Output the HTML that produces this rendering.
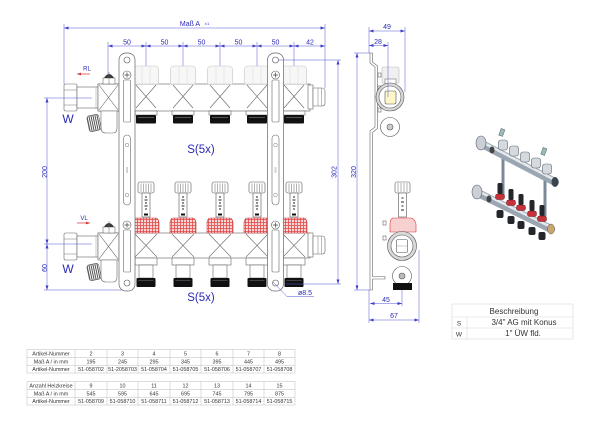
<!DOCTYPE html>
<html><head><meta charset="utf-8">
<style>
html,body{margin:0;padding:0;background:#fff;}
svg{display:block;}
text{font-family:"Liberation Sans",sans-serif;}
</style></head><body>
<svg width="600" height="425" viewBox="0 0 600 425" xmlns="http://www.w3.org/2000/svg">
<defs>
<pattern id="chk" width="3" height="3" patternUnits="userSpaceOnUse">
<rect width="3" height="3" fill="#f9d6d6"/>
<path d="M0 0.5H3M0.5 0V3" stroke="#e04848" stroke-width="0.8"/>
</pattern>
<pattern id="knurl" width="2" height="2" patternUnits="userSpaceOnUse">
<rect width="2" height="2" fill="#fff"/>
<rect width="1" height="2" fill="#555"/>
</pattern>
<marker id="a" viewBox="0 0 6 4" refX="6" refY="2" markerWidth="5" markerHeight="3" markerUnits="userSpaceOnUse" orient="auto-start-reverse"><path d="M0 0L6 2L0 4Z" fill="#3d3dc8"/></marker>
<marker id="ra" viewBox="0 0 6 4" refX="6" refY="2" markerWidth="4" markerHeight="3" markerUnits="userSpaceOnUse" orient="auto-start-reverse"><path d="M0 0L6 2L0 4Z" fill="#d83030"/></marker>

<g id="tout">
 <path d="M-12.5 84V70Q-12.5 66 -8.5 66H8.5Q12.5 66 12.5 70V84Z" fill="#f7f7f7" stroke="#c4c4c4" stroke-width="0.6"/>
 <path d="M-4 66.5V84M4 66.5V84" stroke="#d8d8d8" stroke-width="0.5"/>
 <path d="M-10 85L10 108M10 85L-10 108" stroke="#666" stroke-width="0.6" fill="none"/>
 <rect x="-11" y="111" width="22" height="4" fill="#fff" stroke="#666" stroke-width="0.6"/>
 <rect x="-10" y="115" width="20" height="8.5" rx="1" fill="#111"/>
 <path d="M-8 117.5H8" stroke="#888" stroke-width="0.6"/>
</g>

<g id="bout">
 <rect x="-8" y="182" width="16" height="11" rx="2" fill="#fff" stroke="#555" stroke-width="0.6"/>
 <path d="M-5 183.5V192M-2.5 183.5V192M0 183.5V192M2.5 183.5V192M5 183.5V192" stroke="#666" stroke-width="0.5"/>
 <rect x="-4" y="193" width="8" height="24" fill="#fff" stroke="#555" stroke-width="0.6"/>
 <path d="M-1 197h2M-1.5 200h3M-1 203h2M-1.5 206h3M-1 209h2" stroke="#222" stroke-width="1"/>
 <rect x="-2" y="213.5" width="4" height="2" fill="#111"/>
 <path d="M-10 218Q-12 218 -13 222V233H13V222Q12 218 10 218Z" fill="url(#chk)" stroke="#cc3b3b" stroke-width="0.6"/>
 <path d="M-11 234L11 257M11 234L-11 257" stroke="#666" stroke-width="0.6" fill="none"/>
 <rect x="-11" y="258" width="22" height="7" fill="#fff" stroke="#666" stroke-width="0.6"/>
 <rect x="-7" y="265" width="14" height="13" fill="#fff" stroke="#666" stroke-width="0.6"/>
 <rect x="-9.5" y="278" width="19" height="9" rx="1" fill="#111"/>
 <path d="M-7.5 280.5H7.5" stroke="#777" stroke-width="0.5"/>
</g>

<g id="bracket">
 <rect x="-8" y="53" width="16" height="238" rx="7" fill="#fff" stroke="#666" stroke-width="0.7"/>
 <circle cx="0" cy="60" r="3" fill="#fff" stroke="#555" stroke-width="0.6"/>
 <circle cx="0" cy="75" r="4" fill="#fff" stroke="#555" stroke-width="0.6"/>
 <path d="M-2.5 75H2.5M0 72.5V77.5" stroke="#444" stroke-width="0.7"/>
 <rect x="-3.5" y="80" width="7" height="42" rx="1" fill="#fff" stroke="#666" stroke-width="0.6"/>
 <rect x="-3.5" y="135" width="7" height="70" rx="3.5" fill="#fff" stroke="#666" stroke-width="0.6"/>
 <circle cx="0" cy="145" r="1.8" fill="none" stroke="#777" stroke-width="0.5"/>
 <circle cx="0" cy="195" r="1.8" fill="none" stroke="#777" stroke-width="0.5"/>
 <path d="M-1 168h2M-1 170h2M-1 172h2" stroke="#555" stroke-width="0.6"/>
 <circle cx="0" cy="225" r="4" fill="#fff" stroke="#555" stroke-width="0.6"/>
 <path d="M-2.5 225H2.5M0 222.5V227.5" stroke="#444" stroke-width="0.7"/>
 <rect x="-3.5" y="230" width="7" height="42" rx="1" fill="#fff" stroke="#666" stroke-width="0.6"/>
 <circle cx="0" cy="283" r="3" fill="#fff" stroke="#555" stroke-width="0.6"/>
</g>

<g id="leftend">
 <rect x="64" y="84" width="13" height="27" rx="1.5" fill="#fff" stroke="#666" stroke-width="0.6"/>
 <path d="M64 90H77M64 105H77" stroke="#777" stroke-width="0.5"/>
 <rect x="77" y="87" width="21" height="21" fill="#fff" stroke="#666" stroke-width="0.6"/>
 <path d="M96 87V108" stroke="#999" stroke-width="0.5"/>
 <rect x="98" y="84" width="21" height="27" fill="#fff" stroke="#666" stroke-width="0.6"/>
 <path d="M99 85L118 110M118 85L99 110" stroke="#666" stroke-width="0.6"/>
 <rect x="103" y="78" width="12" height="6" fill="#fff" stroke="#555" stroke-width="0.5"/>
 <path d="M104 78Q109 70 114 78Z" fill="#3a3a3a"/>
 <path d="M109 72V84" stroke="#666" stroke-width="0.5"/>
 <path d="M101 111V128Q101 133 106 133H113Q117 133 117 128V111Z" fill="#fff" stroke="#666" stroke-width="0.6"/>
 <rect x="88" y="115" width="12" height="16" rx="2.5" fill="url(#knurl)" stroke="#555" stroke-width="0.6" transform="rotate(-12 94 123)"/>
</g>

<g id="rightend">
 <rect x="308" y="85" width="5" height="24" fill="#fff" stroke="#666" stroke-width="0.6"/>
 <path d="M313 88H322Q325 88 325 91V103Q325 106 322 106H313Z" fill="#fff" stroke="#666" stroke-width="0.6"/>
 <path d="M318 88V106M321.5 88V106" stroke="#777" stroke-width="0.5"/>
</g>
</defs>

<rect x="98" y="84" width="212" height="27" fill="#fff" stroke="#777" stroke-width="0.7"/>
<use href="#tout" x="146"/>
<use href="#tout" x="183"/>
<use href="#tout" x="220"/>
<use href="#tout" x="257"/>
<use href="#tout" x="294"/>
<use href="#leftend"/>
<use href="#rightend"/>

<rect x="98" y="233" width="212" height="25" fill="#fff" stroke="#777" stroke-width="0.7"/>
<use href="#bout" x="146"/>
<use href="#bout" x="183"/>
<use href="#bout" x="220"/>
<use href="#bout" x="257"/>
<use href="#bout" x="294"/>
<use href="#leftend" y="149"/>
<use href="#rightend" y="148"/>

<use href="#bracket" x="127"/>
<use href="#bracket" x="275.5"/>

<g stroke="#5555d4" stroke-width="0.5" fill="none">
 <line x1="64" y1="28" x2="325" y2="28" marker-start="url(#a)" marker-end="url(#a)"/>
 <line x1="64" y1="24" x2="64" y2="84"/>
 <line x1="325" y1="24" x2="325" y2="88"/>
 <line x1="108" y1="42" x2="108" y2="74"/>
 <line x1="146" y1="42" x2="146" y2="66"/>
 <line x1="183" y1="42" x2="183" y2="66"/>
 <line x1="220" y1="42" x2="220" y2="66"/>
 <line x1="257" y1="42" x2="257" y2="66"/>
 <line x1="294" y1="42" x2="294" y2="66"/>
 <line x1="108" y1="46" x2="146" y2="46" marker-start="url(#a)" marker-end="url(#a)"/>
 <line x1="146" y1="46" x2="183" y2="46" marker-start="url(#a)" marker-end="url(#a)"/>
 <line x1="183" y1="46" x2="220" y2="46" marker-start="url(#a)" marker-end="url(#a)"/>
 <line x1="220" y1="46" x2="257" y2="46" marker-start="url(#a)" marker-end="url(#a)"/>
 <line x1="257" y1="46" x2="294" y2="46" marker-start="url(#a)" marker-end="url(#a)"/>
 <line x1="294" y1="46" x2="325" y2="46" marker-start="url(#a)" marker-end="url(#a)"/>
 <line x1="44" y1="98" x2="92" y2="98"/>
 <line x1="44" y1="244" x2="92" y2="244"/>
 <line x1="44" y1="290" x2="122" y2="290"/>
 <line x1="47" y1="98" x2="47" y2="244" marker-start="url(#a)" marker-end="url(#a)"/>
 <line x1="47" y1="244" x2="47" y2="290" marker-start="url(#a)" marker-end="url(#a)"/>
 <line x1="278" y1="60" x2="341" y2="60"/>
 <line x1="286" y1="284" x2="341" y2="284"/>
 <line x1="338" y1="60" x2="338" y2="284" marker-start="url(#a)" marker-end="url(#a)"/>
 <path d="M273 282L287 296.5H314"/>
</g>
<g fill="#2a2ab8" font-size="7" text-anchor="middle">
 <text x="190" y="26">Maß A</text>
 <text x="207" y="25" font-size="4">±1</text>
 <text x="127" y="44.5">50</text>
 <text x="164.5" y="44.5">50</text>
 <text x="201.5" y="44.5">50</text>
 <text x="238.5" y="44.5">50</text>
 <text x="275.5" y="44.5">50</text>
 <text x="310" y="44.5">42</text>
 <text transform="translate(47,172) rotate(-90)">200</text>
 <text transform="translate(47,268) rotate(-90)">60</text>
 <text transform="translate(336.5,172) rotate(-90)">302</text>
 <text x="305" y="295">ø8.5</text>
 <text x="87" y="70.5" font-size="6">RL</text>
 <text x="84" y="220" font-size="6">VL</text>
 <text x="68" y="123" font-size="12">W</text>
 <text x="68" y="273" font-size="12">W</text>
 <text x="201" y="153" font-size="11.5">S(5x)</text>
 <text x="201" y="301" font-size="11.5">S(5x)</text>
</g>
<line x1="90" y1="74" x2="77" y2="74" stroke="#d83030" stroke-width="0.7" marker-end="url(#ra)"/>
<line x1="77" y1="223" x2="90" y2="223" stroke="#d83030" stroke-width="0.7" marker-end="url(#ra)"/>

<g stroke="#666" stroke-width="0.6" fill="#fff">
 <path d="M370 53V63L375 67V127L370 131V290H372.5V279H385V276.5H372.5V132.5L377.5 128.5V66L372.5 62V53Z"/>
 <rect x="378" y="73" width="3" height="4"/>
 <rect x="378" y="86" width="3" height="4"/>
 <rect x="378" y="108" width="3" height="4"/>
 <rect x="383" y="221" width="3" height="4"/>
 <rect x="383" y="236" width="3" height="4"/>
 <rect x="382" y="67" width="17" height="16" rx="1.5" fill="#f0f0f0" stroke="#bbb"/>
 <rect x="385" y="79" width="11" height="5" fill="#fff" stroke="#777"/>
 <circle cx="390" cy="97" r="14" fill="#d8d8d8" stroke="#555"/>
 <circle cx="390" cy="97" r="11" fill="#fff" stroke="#555"/>
 <rect x="385" y="91" width="11" height="13" rx="1.5" fill="#fff6c8" stroke="#555"/>
 <circle cx="390" cy="127" r="9.5" fill="#fff" stroke="#555"/>
 <circle cx="390" cy="127" r="3" fill="#ccc" stroke="#555"/>
 <rect x="395" y="182" width="15" height="11" rx="2" fill="#fff" stroke="#555"/>
 <path d="M398 183V192M401 183V192M404 183V192M407 183V192" stroke="#666" stroke-width="0.5"/>
 <rect x="398.5" y="193" width="8" height="24" fill="#fff" stroke="#555"/>
 <path d="M401.5 198h2M401 202h3M401.5 206h2M401 210h3" stroke="#222" stroke-width="1"/>
 <path d="M393 218H411Q415 219 416 224V232H390V224Q390 219 393 218Z" fill="#f7d0d0" stroke="#d33"/>
 <circle cx="402" cy="246" r="14.5" fill="#d8d8d8" stroke="#555"/>
 <circle cx="402" cy="246" r="11" fill="#fff" stroke="#555"/>
 <rect x="396.5" y="239.5" width="11" height="13" rx="1.5" fill="#fff" stroke="#555"/>
 <path d="M397 246H407" stroke="#999" stroke-width="0.5"/>
 <circle cx="402" cy="276" r="9.5" fill="#fff" stroke="#555"/>
 <circle cx="402" cy="276" r="3" fill="#bbb" stroke="#555"/>
 <rect x="393" y="283" width="19" height="7" fill="#111" stroke="none"/>
</g>
<g stroke="#5555d4" stroke-width="0.5" fill="none">
 <line x1="369" y1="27" x2="369" y2="53"/>
 <line x1="405" y1="27" x2="405" y2="92"/>
 <line x1="388" y1="42" x2="388" y2="97"/>
 <line x1="369" y1="31" x2="405" y2="31" marker-start="url(#a)" marker-end="url(#a)"/>
 <line x1="369" y1="45.5" x2="388" y2="45.5" marker-start="url(#a)" marker-end="url(#a)"/>
 <line x1="354" y1="53" x2="370" y2="53"/>
 <line x1="354" y1="290" x2="370" y2="290"/>
 <line x1="357" y1="53" x2="357" y2="290" marker-start="url(#a)" marker-end="url(#a)"/>
 <line x1="369" y1="290" x2="369" y2="323"/>
 <line x1="402" y1="290" x2="402" y2="306"/>
 <line x1="419" y1="250" x2="419" y2="323"/>
 <line x1="370" y1="303.5" x2="402" y2="303.5" marker-start="url(#a)" marker-end="url(#a)"/>
 <line x1="369" y1="320" x2="419" y2="320" marker-start="url(#a)" marker-end="url(#a)"/>
</g>
<g fill="#2a2ab8" font-size="7" text-anchor="middle">
 <text x="387" y="29">49</text>
 <text x="378" y="44">28</text>
 <text transform="translate(356,172) rotate(-90)">320</text>
 <text x="386" y="302">45</text>
 <text x="394" y="318">67</text>
</g>

<g>
 <line x1="503" y1="152" x2="503" y2="196" stroke="#7b8a98" stroke-width="3"/>
 <line x1="545" y1="174" x2="545" y2="216" stroke="#7b8a98" stroke-width="3"/>
 <line x1="482" y1="144" x2="555" y2="182" stroke="#9aa6b1" stroke-width="8" stroke-linecap="round"/>
 <line x1="482" y1="142" x2="555" y2="180" stroke="#e4e9ed" stroke-width="2.5"/>
 <ellipse cx="481" cy="143" rx="5" ry="7" fill="#c9d0d6" stroke="#667" stroke-width="0.6"/>
 <ellipse cx="492" cy="150" rx="2.5" ry="3.5" fill="#444"/>
 <rect x="500" y="129" width="4" height="7" fill="#9bb" stroke="#566" stroke-width="0.5" transform="rotate(20 502 132)"/>
 <rect x="542" y="148" width="4" height="7" fill="#9bb" stroke="#566" stroke-width="0.5" transform="rotate(20 544 151)"/>
 <g fill="#d5dadf" stroke="#5d6670" stroke-width="0.6">
  <rect x="498.5" y="140" width="9" height="10" rx="2.5"/>
  <rect x="509.5" y="146" width="9" height="10" rx="2.5"/>
  <rect x="520.5" y="152" width="9" height="10" rx="2.5"/>
  <rect x="531.5" y="158" width="9" height="10" rx="2.5"/>
  <rect x="542.5" y="164" width="9" height="10" rx="2.5"/>
 </g>
 <ellipse cx="555" cy="182" rx="3.5" ry="5" fill="#3a4550"/>
 <line x1="478" y1="193" x2="551" y2="229" stroke="#9aa6b1" stroke-width="8" stroke-linecap="round"/>
 <line x1="478" y1="191" x2="551" y2="227" stroke="#e4e9ed" stroke-width="2.5"/>
 <ellipse cx="477" cy="192" rx="5" ry="7" fill="#c9d0d6" stroke="#667" stroke-width="0.6"/>
 <ellipse cx="489" cy="199" rx="2.5" ry="3.5" fill="#444"/>
 <ellipse cx="551" cy="229" rx="3.5" ry="5" fill="#c9a66b" stroke="#654" stroke-width="0.5"/>
 <g fill="#23262b">
  <rect x="497.5" y="183" width="5" height="11" rx="1.5"/>
  <rect x="508.5" y="189" width="5" height="11" rx="1.5"/>
  <rect x="518.5" y="194" width="5" height="11" rx="1.5"/>
  <rect x="529.5" y="200" width="5" height="11" rx="1.5"/>
  <rect x="539.5" y="205" width="5" height="11" rx="1.5"/>
 </g>
 <g fill="#c8323a" stroke="#6a1a1e" stroke-width="0.5">
  <rect x="495.5" y="194" width="9" height="5.5" rx="2"/>
  <rect x="506.5" y="200" width="9" height="5.5" rx="2"/>
  <rect x="516.5" y="205" width="9" height="5.5" rx="2"/>
  <rect x="527.5" y="211" width="9" height="5.5" rx="2"/>
  <rect x="537.5" y="216" width="9" height="5.5" rx="2"/>
 </g>
 <g fill="#23262b">
  <rect x="496.5" y="210" width="7" height="8" rx="2"/>
  <rect x="507.5" y="216" width="7" height="8" rx="2"/>
  <rect x="517.5" y="221" width="7" height="8" rx="2"/>
  <rect x="528.5" y="227" width="7" height="8" rx="2"/>
  <rect x="538.5" y="232" width="7" height="8" rx="2"/>
 </g>
</g>

<g stroke="#d8d8d8" stroke-width="0.6" fill="none">
 <rect x="452" y="304" width="121" height="35"/>
 <line x1="452" y1="317" x2="573" y2="317"/>
 <line x1="452" y1="328" x2="573" y2="328"/>
 <line x1="467" y1="317" x2="467" y2="339"/>
</g>
<g fill="#333" font-size="8" text-anchor="middle">
 <text x="514" y="314">Beschreibung</text>
 <text x="524" y="325">3/4" AG mit Konus</text>
 <text x="523" y="336">1" ÜW fld.</text>
 <text x="459" y="325.5" font-size="6.5">S</text>
 <text x="459" y="336.5" font-size="6.5">W</text>
</g>

<g stroke="#bbb" stroke-width="0.5" fill="none">
 <rect x="27" y="349.5" width="268" height="23.5"/>
 <line x1="27" y1="357.3" x2="295" y2="357.3"/>
 <line x1="27" y1="365.2" x2="295" y2="365.2"/>
 <rect x="27" y="381.5" width="268" height="23.5"/>
 <line x1="27" y1="389.3" x2="295" y2="389.3"/>
 <line x1="27" y1="397.2" x2="295" y2="397.2"/>
 <path d="M75 349.5V373M107 349.5V373M138 349.5V373M170 349.5V373M201 349.5V373M233 349.5V373M264 349.5V373"/>
 <path d="M75 381.5V405M107 381.5V405M138 381.5V405M170 381.5V405M201 381.5V405M233 381.5V405M264 381.5V405"/>
</g>
<g fill="#333" font-size="5.4" text-anchor="middle">
 <text x="51" y="355.5">Artikel-Nummer</text>
 <text x="51" y="363.3">Maß A / in mm</text>
 <text x="51" y="371.2">Artikel-Nummer</text>
 <text x="91" y="355.5">2</text><text x="122.5" y="355.5">3</text><text x="154" y="355.5">4</text><text x="185.5" y="355.5">5</text><text x="217" y="355.5">6</text><text x="248.5" y="355.5">7</text><text x="279.5" y="355.5">8</text>
 <text x="91" y="363.3">195</text><text x="122.5" y="363.3">245</text><text x="154" y="363.3">295</text><text x="185.5" y="363.3">345</text><text x="217" y="363.3">395</text><text x="248.5" y="363.3">445</text><text x="279.5" y="363.3">495</text>
 <text x="91" y="371.2">51-058702</text><text x="122.5" y="371.2">51-2058703</text><text x="154" y="371.2">51-058704</text><text x="185.5" y="371.2">51-058705</text><text x="217" y="371.2">51-058706</text><text x="248.5" y="371.2">51-058707</text><text x="279.5" y="371.2">51-058708</text>

 <text x="51" y="387.5">Anzahl Heizkreise</text>
 <text x="51" y="395.3">Maß A / in mm</text>
 <text x="51" y="403.2">Artikel-Nummer</text>
 <text x="91" y="387.5">9</text><text x="122.5" y="387.5">10</text><text x="154" y="387.5">11</text><text x="185.5" y="387.5">12</text><text x="217" y="387.5">13</text><text x="248.5" y="387.5">14</text><text x="279.5" y="387.5">15</text>
 <text x="91" y="395.3">545</text><text x="122.5" y="395.3">595</text><text x="154" y="395.3">645</text><text x="185.5" y="395.3">695</text><text x="217" y="395.3">745</text><text x="248.5" y="395.3">795</text><text x="279.5" y="395.3">875</text>
 <text x="91" y="403.2">51-058709</text><text x="122.5" y="403.2">51-058710</text><text x="154" y="403.2">51-058711</text><text x="185.5" y="403.2">51-058712</text><text x="217" y="403.2">51-058713</text><text x="248.5" y="403.2">51-058714</text><text x="279.5" y="403.2">51-058715</text>
</g>
</svg>
</body></html>
